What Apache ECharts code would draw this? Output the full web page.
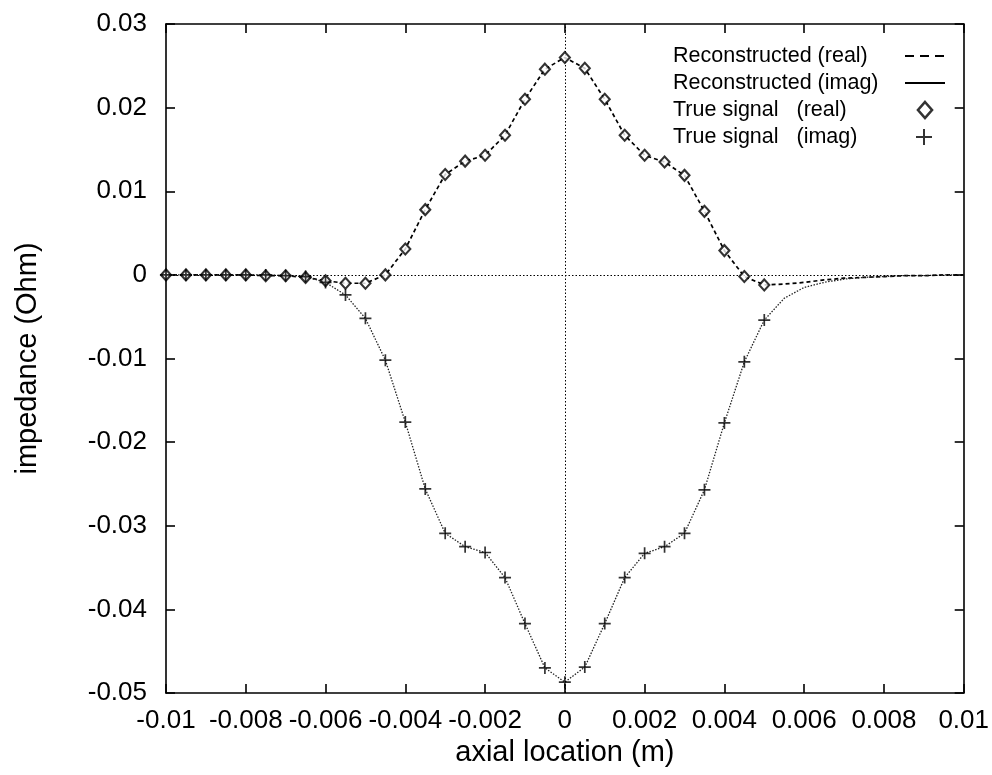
<!DOCTYPE html>
<html>
<head>
<meta charset="utf-8">
<script src="https://cdn.jsdelivr.net/npm/echarts@6/dist/echarts.min.js"></script>
<style>
html,body{margin:0;padding:0;background:#fff;}
#chart{width:992px;height:775px;}
</style>
</head>
<body>
<div id="chart"></div>
<script>
// True signal sample locations (m)
var xTrue = [-0.01,-0.0095,-0.009,-0.0085,-0.008,-0.0075,-0.007,-0.0065,-0.006,-0.0055,
  -0.005,-0.0045,-0.004,-0.0035,-0.003,-0.0025,-0.002,-0.0015,-0.001,-0.0005,
  0,0.0005,0.001,0.0015,0.002,0.0025,0.003,0.0035,0.004,0.0045,0.005];
var realTrue = [0,0,0,0,0,-0.0001,-0.0001,-0.0003,-0.0007,-0.0010,
  -0.0010,0.0000,0.0031,0.0078,0.0120,0.0136,0.0143,0.0167,0.0210,0.0246,
  0.0260,0.0247,0.0210,0.0167,0.0143,0.0135,0.0119,0.0076,0.0029,-0.0002,-0.0012];
var imagTrue = [0,0,0,0,0,0,-0.0001,-0.0002,-0.0009,-0.0024,
  -0.0052,-0.0102,-0.0176,-0.0256,-0.0309,-0.0325,-0.0332,-0.0362,-0.0417,-0.0470,
  -0.0487,-0.0469,-0.0417,-0.0362,-0.0333,-0.0325,-0.0309,-0.0257,-0.0177,-0.0104,-0.0054];

// Reconstructed signal locations (m)
var xRec = [-0.01,-0.0095,-0.009,-0.0085,-0.008,-0.0075,-0.007,-0.0065,-0.006,-0.0055,
  -0.005,-0.0045,-0.004,-0.0035,-0.003,-0.0025,-0.002,-0.0015,-0.001,-0.0005,
  0,0.0005,0.001,0.0015,0.002,0.0025,0.003,0.0035,0.004,0.0045,0.005,
  0.0055,0.006,0.0065,0.007,0.0075,0.008,0.0085,0.009,0.0095,0.01];
var realRec = [0,0,0,0,0,-0.0001,-0.0001,-0.0003,-0.0007,-0.0010,
  -0.0010,0.0000,0.0031,0.0078,0.0120,0.0136,0.0143,0.0167,0.0210,0.0246,
  0.0260,0.0247,0.0210,0.0167,0.0143,0.0135,0.0119,0.0076,0.0029,-0.0002,-0.0012,
  -0.0011,-0.0009,-0.0006,-0.0004,-0.0003,-0.0002,-0.0001,-0.0001,0,0];
var imagRec = [0,0,0,0,0,0,-0.0001,-0.0002,-0.0009,-0.0024,
  -0.0052,-0.0102,-0.0176,-0.0256,-0.0309,-0.0325,-0.0332,-0.0362,-0.0417,-0.0470,
  -0.0487,-0.0469,-0.0417,-0.0362,-0.0333,-0.0325,-0.0309,-0.0257,-0.0177,-0.0104,-0.0054,
  -0.0028,-0.0015,-0.0009,-0.0005,-0.0003,-0.0002,-0.0001,-0.0001,0,0];

var legendNames = ['Reconstructed (real)','Reconstructed (imag)','True signal   (real)','True signal   (imag)'];

function zip(a,b){var r=[];for(var i=0;i<a.length;i++){r.push([a[i],b[i]]);}return r;}

var FONT = '"Liberation Sans", Arial, Helvetica, sans-serif';
var chart = echarts.init(document.getElementById('chart'));

var axisCommon = {
  axisLine:{show:true,onZero:false,lineStyle:{color:'#000',width:1.6}},
  axisTick:{show:true,inside:true,length:9,lineStyle:{color:'#000',width:1.6}},
  splitLine:{show:false}
};

function mkLegend(i, iconW, iconH, textW, extra){
  var item = Object.assign({name:legendNames[i]}, extra||{});
  return {
    orient:'horizontal',left:673,top:45+27*i,align:'right',
    itemWidth:iconW,itemHeight:iconH,itemGap:0,padding:0,
    selectedMode:false,
    formatter:function(n){return '{t|'+n+'}';},
    textStyle:{color:'#000',fontFamily:FONT,fontSize:21.5,
      rich:{t:{width:textW,align:'left',fontSize:21.5,lineHeight:21,fontFamily:FONT,color:'#000'}}},
    data:[item]
  };
}

var option = {
  animation:false,
  backgroundColor:'#fff',
  grid:{left:166,top:24,width:801,height:669,containLabel:false},
  xAxis:[
    Object.assign({type:'value',min:-0.01,max:0.01,interval:0.002,position:'bottom',
      name:'axial location (m)',nameLocation:'middle',nameGap:45,
      nameTextStyle:{fontSize:29,color:'#000',fontFamily:FONT},
      axisLabel:{fontSize:26,color:'#000',fontFamily:FONT,margin:15,
        formatter:function(v){var r=Math.round(v*1000)/1000;return String(r);}}
    },axisCommon),
    Object.assign({type:'value',min:-0.01,max:0.01,interval:0.002,position:'top',
      axisLabel:{show:false}},axisCommon)
  ],
  yAxis:[
    Object.assign({type:'value',min:-0.05,max:0.03,interval:0.01,position:'left',
      name:'impedance (Ohm)',nameLocation:'middle',nameGap:124,nameRotate:90,
      nameTextStyle:{fontSize:29,color:'#000',fontFamily:FONT},
      axisLabel:{fontSize:26,color:'#000',fontFamily:FONT,margin:19,
        formatter:function(v){var r=Math.round(v*100)/100;return String(r);}}
    },axisCommon),
    Object.assign({type:'value',min:-0.05,max:0.03,interval:0.01,position:'right',
      axisLabel:{show:false}},axisCommon)
  ],
  legend:[
    mkLegend(0,40,14,227,{lineStyle:{type:[9,6],width:2.2,color:'#000'},itemStyle:{opacity:0}}),
    mkLegend(1,40,14,227,{lineStyle:{type:'solid',width:2.2,color:'#000'},itemStyle:{opacity:0}}),
    mkLegend(2,14,16,240,{icon:'diamond',itemStyle:{color:'#fff',borderColor:'#000',borderWidth:2.6}}),
    mkLegend(3,16,18,238,{itemStyle:{color:'none',borderColor:'#000',borderWidth:2}})
  ],
  series:[
    {
      name:legendNames[0],type:'line',data:zip(xRec,realRec),
      symbol:'none',showSymbol:false,
      lineStyle:{color:'#000',width:1.7,type:[4,3]},
      itemStyle:{color:'#000'},
      z:3,
      markLine:{
        silent:true,symbol:['none','none'],label:{show:false},
        lineStyle:{color:'#000',width:1,type:[1.5,2]},
        data:[{yAxis:0},{xAxis:0}]
      }
    },
    {
      name:legendNames[1],type:'line',data:zip(xRec,imagRec),
      symbol:'none',showSymbol:false,
      lineStyle:{color:'#222',width:1.3,type:[1.5,1.5]},
      itemStyle:{color:'#000'},
      z:3
    },
    {
      name:legendNames[2],type:'scatter',data:zip(xTrue,realTrue),
      symbol:'diamond',symbolSize:[10,11],
      itemStyle:{color:'#fff',borderColor:'#000',borderWidth:2.1},
      z:5
    },
    {
      name:legendNames[3],type:'scatter',data:zip(xTrue,imagTrue),
      symbol:'path://M0,5L10,5M5,0L5,10',symbolSize:12,
      itemStyle:{color:'none',borderColor:'#000',borderWidth:1.7},
      z:6
    }
  ]
};
chart.setOption(option);
</script>
</body>
</html>
